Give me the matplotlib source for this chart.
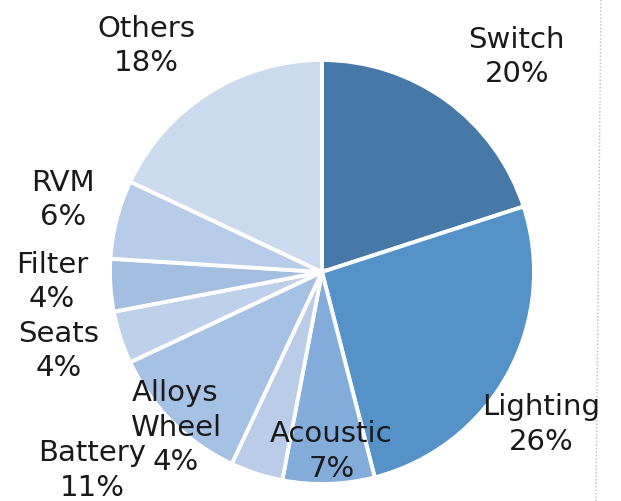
import numpy as np
import matplotlib
matplotlib.use("Agg")
from matplotlib import pyplot as plt

categories = ["Switch", "Lighting", "Acoustic", "Alloys\nWheel", "Battery",
              "Seats", "Filter", "RVM", "Others"]
shares = [20, 26, 7, 4, 11, 4, 4, 6, 18]
colors = ["#4779a8", "#5592c8", "#84acdb", "#b9cde8", "#a5c1e3",
          "#bdd1eb", "#a3bee1", "#b7cce8", "#cbdaee"]

# label placement: (distance in pixels from centre, angle in degrees)
label_pos = [(290, 47.8), (267, -34.9), (180, -87), (214, -133.3), (304, -139.2),
             (275, -163.3), (270, -177.9), (269, 164.5), (286, 127.8)]

W, H = 621, 501
cx, cy, radius = 322, H - 272, 212

fig = plt.figure(figsize=(W / 100, H / 100), dpi=100)
ax = fig.add_axes([0, 0, 1, 1])

wedges, _ = ax.pie(shares, colors=colors, startangle=90, counterclock=False,
                   center=(cx, cy), radius=radius,
                   wedgeprops={'edgecolor': 'white', 'linewidth': 2.8})

for name, val, (r, ang) in zip(categories, shares, label_pos):
    a = np.deg2rad(ang)
    ax.text(cx + r * np.cos(a), cy + r * np.sin(a), f"{name}\n{val}%",
            ha='center', va='center', fontsize=21, color='#1a1a1a',
            linespacing=1.3, family='DejaVu Sans')

ax.plot([601, 596], [H, 0], linestyle=(0, (1, 1.5)), color='#bdbdbd', linewidth=1)

ax.set_xlim(0, W)
ax.set_ylim(0, H)
ax.set_aspect('equal')
ax.axis('off')

plt.savefig('out.png', dpi=100)
